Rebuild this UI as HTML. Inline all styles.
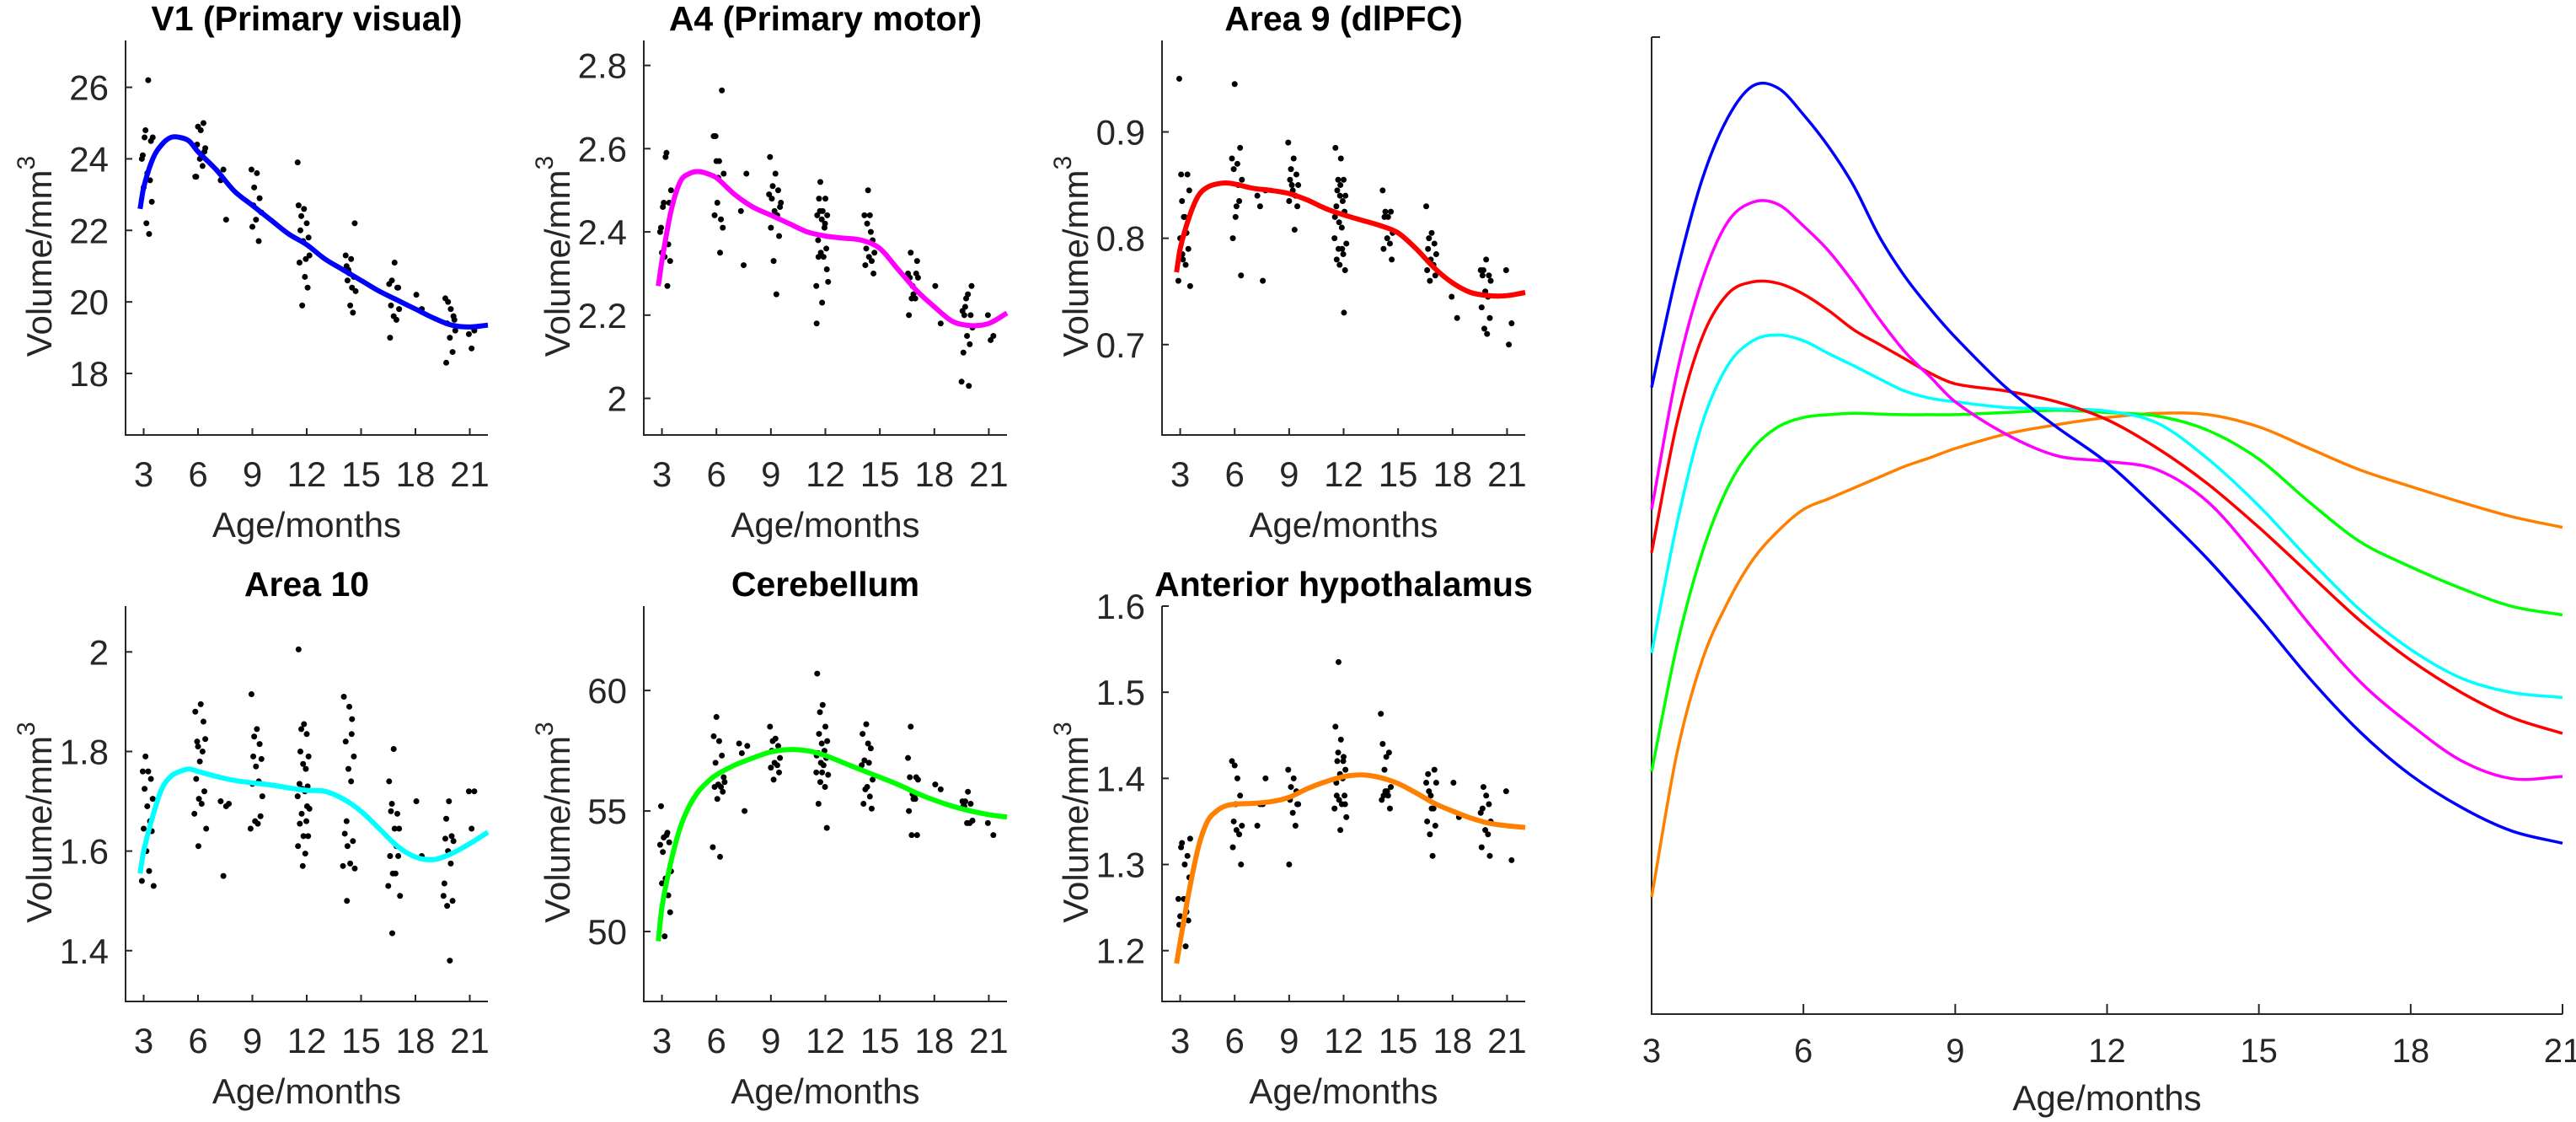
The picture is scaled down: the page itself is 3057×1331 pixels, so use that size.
<!DOCTYPE html>
<html><head><meta charset="utf-8">
<style>
html,body{margin:0;padding:0;background:#fff;}
svg{display:block;font-family:"Liberation Sans",Arial,sans-serif;}
</style></head>
<body>
<svg id="fig" width="3057" height="1331" viewBox="0 0 3057 1331" xmlns="http://www.w3.org/2000/svg"></svg>
<script>
// ---------- DATA ----------
const xTicks = [3, 6, 9, 12, 15, 18, 21];
const fitAges = [2.8, 3, 3.5, 4, 4.5, 5, 5.5, 6, 7, 8, 9, 10, 11, 12, 13, 14, 15, 16, 17, 18, 19, 20, 21, 22];
const jitter = [0.05, 0.35, 0.2, 0.5, 0.15, 0.6, 0.3, 0.45, 0.1, 0.55, 0.25, 0.4, 0.0, 0.65, 0.22, 0.48, 0.12, 0.58, 0.32, 0.02, 0.42, 0.28, 0.52, 0.18];

const v1Title = "V1 (Primary visual)";
const v1YTicks = [18, 20, 22, 24, 26];
const v1Fit = [22.6, 23.2, 24.0, 24.4, 24.6, 24.6, 24.5, 24.2, 23.7, 23.1, 22.7, 22.3, 21.9, 21.6, 21.2, 20.9, 20.6, 20.3, 20.05, 19.8, 19.55, 19.35, 19.3, 19.35];
const v1Groups = [
 [2.9, [24.1, 26.2, 24.8, 24.5, 24.6, 24.6, 23.6, 23.4, 23.2, 22.8, 22.2, 21.9, 24.0]],
 [5.8, [23.5, 24.8, 24.9, 25.0, 24.4, 24.3, 24.0, 23.8, 23.5, 24.2]],
 [7.2, [23.4, 22.3, 23.7]],
 [8.9, [23.7, 23.6, 23.2, 22.9, 22.7, 22.5, 22.3, 21.7, 22.1]],
 [11.5, [22.7, 22.6, 22.4, 22.2, 22.0, 21.8, 21.7, 21.2, 21.1, 20.4, 19.9, 20.7, 23.9, 21.3]],
 [14.1, [21.3, 21.2, 20.9, 20.7, 20.6, 20.3, 19.9, 19.7, 21.0, 22.2, 20.8, 20.4]],
 [16.5, [20.5, 21.1, 20.6, 20.4, 19.9, 19.8, 19.6, 19.5, 19.0, 20.4]],
 [18.0, [20.2, 19.8]],
 [19.6, [20.1, 19.8, 20.0, 19.6, 19.4, 19.2, 19.0, 18.6, 18.3, 19.5]],
 [20.9, [19.1, 19.2, 18.7]]
];

const a4Title = "A4 (Primary motor)";
const a4YTicks = [2, 2.2, 2.4, 2.6, 2.8];
const a4Fit = [2.27, 2.33, 2.45, 2.52, 2.54, 2.545, 2.54, 2.53, 2.49, 2.46, 2.44, 2.42, 2.40, 2.39, 2.385, 2.38, 2.36, 2.31, 2.26, 2.22, 2.185, 2.175, 2.18, 2.205];
const a4Groups = [
 [2.9, [2.41, 2.59, 2.47, 2.47, 2.46, 2.50, 2.58, 2.37, 2.35, 2.33, 2.34, 2.27, 2.40]],
 [5.8, [2.63, 2.57, 2.57, 2.74, 2.63, 2.54, 2.53, 2.43, 2.44, 2.41, 2.47, 2.35]],
 [7.3, [2.45, 2.54, 2.32]],
 [8.9, [2.58, 2.54, 2.51, 2.50, 2.48, 2.46, 2.45, 2.44, 2.41, 2.39, 2.33, 2.25, 2.49, 2.47]],
 [11.5, [2.44, 2.45, 2.45, 2.48, 2.48, 2.44, 2.43, 2.41, 2.38, 2.36, 2.35, 2.34, 2.27, 2.28, 2.52, 2.42, 2.34, 2.31, 2.23, 2.18]],
 [14.1, [2.44, 2.44, 2.42, 2.38, 2.36, 2.35, 2.34, 2.33, 2.32, 2.30, 2.50, 2.40]],
 [16.5, [2.30, 2.25, 2.35, 2.30, 2.29, 2.29, 2.27, 2.24, 2.20, 2.33, 2.24]],
 [18.0, [2.27, 2.18]],
 [19.5, [2.21, 2.25, 2.22, 2.20, 2.20, 2.17, 2.15, 2.13, 2.11, 2.27, 2.24, 2.03, 2.04]],
 [20.9, [2.20, 2.15, 2.14]]
];

const a9Title = "Area 9 (dlPFC)";
const a9YTicks = [0.7, 0.8, 0.9];
const a9Fit = [0.768, 0.79, 0.82, 0.84, 0.848, 0.851, 0.852, 0.851, 0.847, 0.845, 0.842, 0.836, 0.828, 0.822, 0.817, 0.812, 0.805, 0.79, 0.772, 0.758, 0.749, 0.746, 0.746, 0.749];
const a9Groups = [
 [2.9, [0.95, 0.82, 0.835, 0.86, 0.86, 0.845, 0.82, 0.805, 0.80, 0.79, 0.78, 0.775, 0.76, 0.755, 0.785]],
 [5.8, [0.875, 0.87, 0.945, 0.885, 0.865, 0.855, 0.83, 0.835, 0.80, 0.765, 0.82, 0.85]],
 [7.2, [0.84, 0.76, 0.83, 0.845]],
 [8.9, [0.89, 0.875, 0.865, 0.86, 0.855, 0.85, 0.845, 0.84, 0.835, 0.83, 0.85, 0.808]],
 [11.5, [0.885, 0.875, 0.855, 0.855, 0.845, 0.84, 0.84, 0.835, 0.83, 0.825, 0.815, 0.81, 0.80, 0.795, 0.79, 0.785, 0.78, 0.77, 0.85, 0.82, 0.79, 0.775, 0.73]],
 [14.1, [0.845, 0.82, 0.825, 0.825, 0.82, 0.805, 0.80, 0.795, 0.79, 0.78]],
 [16.5, [0.83, 0.805, 0.80, 0.795, 0.79, 0.785, 0.78, 0.775, 0.77, 0.765, 0.76]],
 [17.9, [0.745, 0.725]],
 [19.5, [0.77, 0.78, 0.77, 0.765, 0.765, 0.76, 0.75, 0.745, 0.735, 0.725, 0.715, 0.71]],
 [20.9, [0.77, 0.72, 0.70]]
];

const a10Title = "Area 10";
const a10YTicks = [1.4, 1.6, 1.8, 2];
const a10Fit = [1.555, 1.60, 1.67, 1.725, 1.75, 1.76, 1.765, 1.76, 1.75, 1.742, 1.737, 1.733, 1.727, 1.722, 1.72, 1.705, 1.68, 1.645, 1.61, 1.588, 1.583, 1.595, 1.615, 1.638];
const a10Groups = [
 [2.9, [1.76, 1.76, 1.79, 1.745, 1.725, 1.705, 1.69, 1.66, 1.645, 1.64, 1.60, 1.56, 1.54, 1.53]],
 [5.8, [1.88, 1.895, 1.81, 1.86, 1.82, 1.825, 1.78, 1.80, 1.745, 1.72, 1.705, 1.695, 1.675, 1.645, 1.61]],
 [7.2, [1.70, 1.69, 1.55, 1.695]],
 [8.9, [1.915, 1.845, 1.83, 1.815, 1.79, 1.785, 1.77, 1.74, 1.735, 1.67, 1.66, 1.655, 1.645, 1.71]],
 [11.5, [2.005, 1.855, 1.845, 1.835, 1.80, 1.79, 1.775, 1.765, 1.735, 1.73, 1.725, 1.72, 1.71, 1.685, 1.675, 1.66, 1.655, 1.63, 1.63, 1.61, 1.595, 1.57, 1.69]],
 [14.0, [1.91, 1.89, 1.66, 1.865, 1.82, 1.79, 1.765, 1.74, 1.635, 1.62, 1.61, 1.575, 1.57, 1.565, 1.50, 1.835]],
 [16.5, [1.74, 1.645, 1.695, 1.675, 1.68, 1.645, 1.805, 1.61, 1.59, 1.59, 1.555, 1.555, 1.53, 1.51, 1.435]],
 [18.0, [1.70, 1.59]],
 [19.5, [1.51, 1.70, 1.665, 1.63, 1.625, 1.62, 1.60, 1.575, 1.535, 1.50, 1.49, 1.38]],
 [20.9, [1.72, 1.72, 1.645]]
];

const cbTitle = "Cerebellum";
const cbYTicks = [50, 55, 60];
const cbFit = [49.6, 51.0, 52.9, 54.3, 55.2, 55.8, 56.2, 56.5, 56.9, 57.2, 57.45, 57.55, 57.5, 57.3, 57.0, 56.7, 56.4, 56.1, 55.75, 55.45, 55.2, 55.0, 54.85, 54.75];
const cbGroups = [
 [2.9, [55.2, 54.0, 53.9, 53.7, 53.3, 52.5, 52.2, 51.5, 52.0, 50.8, 49.8, 54.1, 53.6]],
 [5.8, [58.1, 57.9, 58.9, 57.3, 57.0, 56.4, 56.1, 56.0, 56.0, 55.8, 55.5, 53.1, 53.5, 56.2]],
 [7.2, [57.8, 55.0, 57.4, 57.7]],
 [8.9, [58.5, 58.0, 57.9, 57.7, 57.5, 57.2, 57.0, 56.9, 56.8, 56.6, 56.3]],
 [11.5, [60.7, 59.4, 59.1, 58.5, 58.2, 57.9, 57.8, 57.5, 57.4, 57.2, 57.0, 56.9, 56.6, 56.5, 56.2, 56.0, 55.3, 54.3, 56.6, 57.3]],
 [14.0, [58.2, 57.8, 55.9, 57.6, 57.1, 56.3, 56.0, 55.6, 55.3, 55.1, 58.6, 57.0, 56.9]],
 [16.5, [57.2, 55.5, 58.5, 56.4, 56.4, 56.3, 55.7, 55.5, 55.0, 54.0, 54.0, 55.6]],
 [18.0, [56.1, 55.9]],
 [19.5, [55.4, 55.8, 55.4, 55.3, 55.2, 54.6, 54.5, 54.5, 55.2]],
 [20.9, [54.5, 54.0]]
];

const ahTitle = "Anterior hypothalamus";
const ahYTicks = [1.2, 1.3, 1.4, 1.5, 1.6];
const ahFit = [1.185, 1.21, 1.27, 1.32, 1.35, 1.362, 1.368, 1.37, 1.371, 1.373, 1.378, 1.388, 1.396, 1.402, 1.404, 1.401, 1.394, 1.383, 1.371, 1.362, 1.354, 1.348, 1.345, 1.343];
const ahGroups = [
 [2.9, [1.23, 1.30, 1.325, 1.31, 1.32, 1.285, 1.26, 1.245, 1.24, 1.235, 1.23, 1.205, 1.26, 1.33]],
 [5.8, [1.42, 1.40, 1.415, 1.38, 1.35, 1.345, 1.34, 1.335, 1.32, 1.30, 1.37]],
 [7.2, [1.345, 1.37, 1.37, 1.40]],
 [8.9, [1.41, 1.40, 1.39, 1.385, 1.375, 1.37, 1.36, 1.345, 1.30, 1.37]],
 [11.5, [1.46, 1.445, 1.43, 1.425, 1.42, 1.41, 1.405, 1.40, 1.395, 1.38, 1.375, 1.37, 1.365, 1.355, 1.535, 1.42, 1.38, 1.37, 1.34]],
 [14.0, [1.475, 1.425, 1.38, 1.43, 1.44, 1.39, 1.385, 1.38, 1.375, 1.365, 1.41, 1.385]],
 [16.5, [1.395, 1.365, 1.385, 1.41, 1.405, 1.395, 1.38, 1.365, 1.35, 1.345, 1.335, 1.31]],
 [18.0, [1.395, 1.355]],
 [19.5, [1.36, 1.38, 1.39, 1.37, 1.365, 1.35, 1.34, 1.335, 1.32, 1.31]],
 [20.9, [1.385, 1.305]]
];

// Right comparison panel (relative units)
const cmpAges = [3, 3.5, 4, 4.5, 5, 5.5, 6, 6.5, 7, 7.5, 8, 8.5, 9, 10, 11, 12, 13, 14, 15, 16, 17, 18, 19, 20, 21];
const cmpV1 = [873, 1033, 1163, 1248, 1293, 1290, 1253, 1208, 1153, 1083, 1028, 983, 943, 873, 818, 768, 703, 633, 553, 468, 393, 333, 288, 255, 238];
const cmpA4 = [703, 893, 1023, 1103, 1131, 1128, 1098, 1063, 1018, 968, 923, 888, 853, 808, 778, 770, 758, 713, 633, 543, 463, 403, 353, 328, 331];
const cmpA9 = [643, 823, 943, 1003, 1020, 1018, 1003, 980, 953, 933, 913, 893, 878, 868, 853, 828, 788, 738, 678, 613, 548, 493, 448, 413, 391];
const cmpA10 = [503, 683, 823, 903, 938, 946, 938, 920, 903, 885, 868, 858, 853, 845, 843, 840, 823, 773, 708, 633, 563, 508, 468, 448, 441];
const cmpCb = [338, 513, 643, 733, 788, 818, 831, 835, 837, 836, 835, 835, 835, 838, 841, 838, 833, 813, 773, 713, 658, 623, 593, 568, 556];
const cmpAh = [163, 363, 493, 573, 633, 673, 703, 718, 733, 748, 763, 775, 788, 808, 821, 831, 837, 835, 818, 788, 758, 735, 713, 693, 678];
const cmpYMax = 1361;

// ---------- DRAWING ----------
const NS = "http://www.w3.org/2000/svg";
const svg = document.getElementById("fig");
function mk(tag, attrs, parent) {
  const e = document.createElementNS(NS, tag);
  for (const k in attrs) e.setAttribute(k, attrs[k]);
  (parent || svg).appendChild(e);
  return e;
}
// Hermite spline in x (handles non-uniform spacing smoothly)
function smoothPath(pts) {
  const n = pts.length;
  const m = pts.map((p, i) => {
    const a = pts[Math.max(0, i - 1)], b = pts[Math.min(n - 1, i + 1)];
    return (b[1] - a[1]) / (b[0] - a[0]);
  });
  let d = "M" + pts[0][0].toFixed(1) + "," + pts[0][1].toFixed(1);
  for (let i = 0; i < n - 1; i++) {
    const p1 = pts[i], p2 = pts[i + 1], h = (p2[0] - p1[0]) / 3;
    d += " C" + (p1[0] + h).toFixed(1) + "," + (p1[1] + m[i] * h).toFixed(1) + " " +
         (p2[0] - h).toFixed(1) + "," + (p2[1] - m[i + 1] * h).toFixed(1) + " " +
         p2[0].toFixed(1) + "," + p2[1].toFixed(1);
  }
  return d;
}
const AX = "#262626";

function panel(cfg) {
  const g = mk("g", {});
  
  
  const L = cfg.left, R = cfg.right, T = cfg.top, B = cfg.bottom;
  const sx = a => L + (a - 2) / 20 * (R - L);
  const sy = v => B - (v - cfg.ymin) / (cfg.ymax - cfg.ymin) * (B - T);
  const ax = mk("path", {d: `M${L},${T} L${L},${B} L${R},${B}`, fill: "none", stroke: AX, "stroke-width": 2}, g);
  
  
  xTicks.forEach(t => {
    const x = sx(t);
    mk("line", {x1: x, y1: B, x2: x, y2: B - 8, stroke: AX, "stroke-width": 2}, g);
    const tx = mk("text", {x: x, y: B + 61, "font-size": 42, fill: AX, "text-anchor": "middle"}, g);
    tx.textContent = t;
    
    
  });
  cfg.yticks.forEach(t => {
    const y = sy(t);
    mk("line", {x1: L, y1: y, x2: L + 8, y2: y, stroke: AX, "stroke-width": 2}, g);
    const ty = mk("text", {x: L - 20, y: y + 15, "font-size": 42, fill: AX, "text-anchor": "end"}, g);
    ty.textContent = String(t);
    
    
  });
  const tt = mk("text", {x: (L + R) / 2, y: T - 12, "font-size": 41, "font-weight": "bold", fill: "#000", "text-anchor": "middle"}, g);
  tt.textContent = cfg.title;
  
  
  const xl = mk("text", {x: (L + R) / 2, y: B + 121, "font-size": 42, fill: AX, "text-anchor": "middle"}, g);
  xl.textContent = "Age/months";
  
  
  const cy = (T + B) / 2 + 22;
  const yl = mk("text", {x: 0, y: 0, "font-size": 42, fill: AX, "text-anchor": "middle", transform: `translate(${L - 88},${cy}) rotate(-90)`}, g);
  
  
  yl.appendChild(document.createTextNode("Volume/mm"));
  const sup = mk("tspan", {dy: -20, "font-size": 30}, yl);
  sup.textContent = "3";
  const dg = mk("g", {fill: "#000"}, g);
  
  
  cfg.groups.forEach(gr => {
    gr[1].forEach((v, i) => {
      const c = mk("circle", {cx: sx(gr[0] + jitter[i % jitter.length]), cy: sy(v), r: 3.5}, dg);
      
      
    });
  });
  const pts = fitAges.map((a, i) => [sx(a), sy(cfg.fit[i])]);
  const fp = mk("path", {d: smoothPath(pts), fill: "none", stroke: cfg.color, "stroke-width": 6, "stroke-linejoin": "round"}, g);
  
  
}

const cols = [[149, 579], [764, 1195], [1379, 1810]];
const rows = [[48, 516], [719, 1188]];
panel({key: "v1", title: v1Title, left: cols[0][0], right: cols[0][1], top: rows[0][0], bottom: rows[0][1], ymin: 16.28, ymax: 27.31, yticks: v1YTicks, groups: v1Groups, fit: v1Fit, color: "#0000ff"});
panel({key: "a4", title: a4Title, left: cols[1][0], right: cols[1][1], top: rows[0][0], bottom: rows[0][1], ymin: 1.912, ymax: 2.86, yticks: a4YTicks, groups: a4Groups, fit: a4Fit, color: "#ff00ff"});
panel({key: "area9", title: a9Title, left: cols[2][0], right: cols[2][1], top: rows[0][0], bottom: rows[0][1], ymin: 0.615, ymax: 0.986, yticks: a9YTicks, groups: a9Groups, fit: a9Fit, color: "#ff0000"});
panel({key: "area10", title: a10Title, left: cols[0][0], right: cols[0][1], top: rows[1][0], bottom: rows[1][1], ymin: 1.298, ymax: 2.092, yticks: a10YTicks, groups: a10Groups, fit: a10Fit, color: "#00ffff"});
panel({key: "cerebellum", title: cbTitle, left: cols[1][0], right: cols[1][1], top: rows[1][0], bottom: rows[1][1], ymin: 47.1, ymax: 63.5, yticks: cbYTicks, groups: cbGroups, fit: cbFit, color: "#00ff00"});
panel({key: "hypothalamus", title: ahTitle, left: cols[2][0], right: cols[2][1], top: rows[1][0], bottom: rows[1][1], ymin: 1.141, ymax: 1.6, yticks: ahYTicks, groups: ahGroups, fit: ahFit, color: "#ff8000"});

(function () {
  const g = mk("g", {});
  
  
  const L = 1960, R = 3041, T = 44, B = 1203;
  const sx = a => L + (a - 3) / 18 * (R - L);
  const sy = v => B - v / cmpYMax * (B - T);
  const ax = mk("path", {d: `M${L},${T} L${L},${B} L${R},${B}`, fill: "none", stroke: AX, "stroke-width": 2}, g);
  
  
  mk("line", {x1: L, y1: T, x2: L + 10, y2: T, stroke: AX, "stroke-width": 2}, g);
  xTicks.forEach(t => {
    const x = sx(t);
    mk("line", {x1: x, y1: B, x2: x, y2: B - 12, stroke: AX, "stroke-width": 2}, g);
    const tx = mk("text", {x: x, y: B + 57, "font-size": 40, fill: AX, "text-anchor": "middle"}, g);
    tx.textContent = t;
    
    
  });
  const xl = mk("text", {x: (L + R) / 2, y: B + 114, "font-size": 42, fill: AX, "text-anchor": "middle"}, g);
  xl.textContent = "Age/months";
  
  
  const series = [[cmpAh, "#ff8000", "hypothalamus"], [cmpCb, "#00ff00", "cerebellum"], [cmpA10, "#00ffff", "area10"], [cmpA9, "#ff0000", "area9"], [cmpA4, "#ff00ff", "a4"], [cmpV1, "#0000ff", "v1"]];
  series.forEach(s => {
    const pts = cmpAges.map((a, i) => [sx(a), sy(s[0][i])]);
    const p = mk("path", {d: smoothPath(pts), fill: "none", stroke: s[1], "stroke-width": 3.5}, g);
    
    
  });
})();
</script>
</body></html>
